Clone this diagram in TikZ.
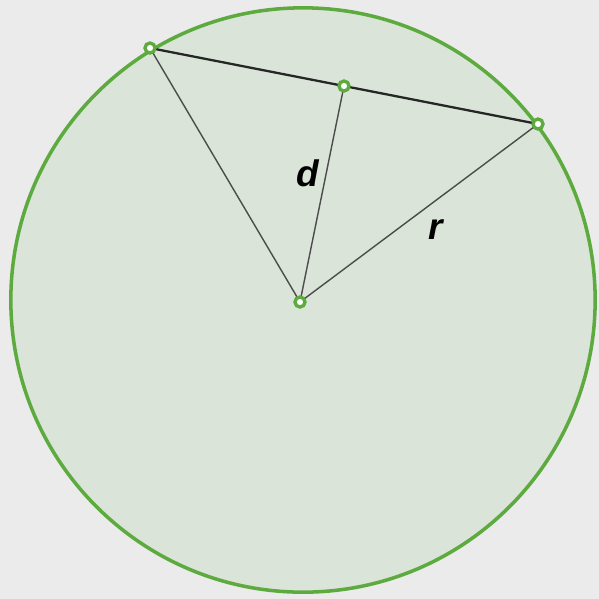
\documentclass[tikz,border=0pt]{standalone}
\usepackage{fontspec}
\setmainfont{Liberation Sans}
\definecolor{bggray}{HTML}{EBEBEB}
\definecolor{discfill}{HTML}{DAE4D8}
\definecolor{rimgreen}{HTML}{5DAA3F}

\begin{document}
\begin{tikzpicture}[x=0.01cm, y=-0.01cm,
    pt/.style={circle, draw=rimgreen, fill=white, line width=0.95pt,
      inner sep=0pt, minimum size=0.1cm},
    lbl/.style={font=\fontsize{10.5}{12}\selectfont\bfseries\itshape}]
  \fill[bggray] (0,0) rectangle (599,599);
  \useasboundingbox (0,0) rectangle (599,599);
  \coordinate (C) at (303,300);
  \coordinate (O) at (300,302);
  \coordinate (A) at (150,48);
  \coordinate (B) at (538,124);
  \coordinate (M) at (344,86);
  % the disc
  \draw[rimgreen, fill=discfill, line width=1pt] (C) circle (2.92cm);
  % radii and distance to the chord
  \draw[line width=0.4pt, black!70] (O) -- (A);
  \draw[line width=0.4pt, black!70] (O) -- (M);
  \draw[line width=0.4pt, black!70] (O) -- (B);
  % the chord
  \draw[line width=0.65pt, black!85] (A) -- (B);
  \node[pt] (a) at (A) {};
  \node[pt] (m) at (M) {};
  \node[pt] (b) at (B) {};
  \node[pt] (o) at (O) {};
  \node[lbl] (d) at (308,173) {d};
  \node[lbl] (r) at (436,230) {r};
\end{tikzpicture}
\end{document}
